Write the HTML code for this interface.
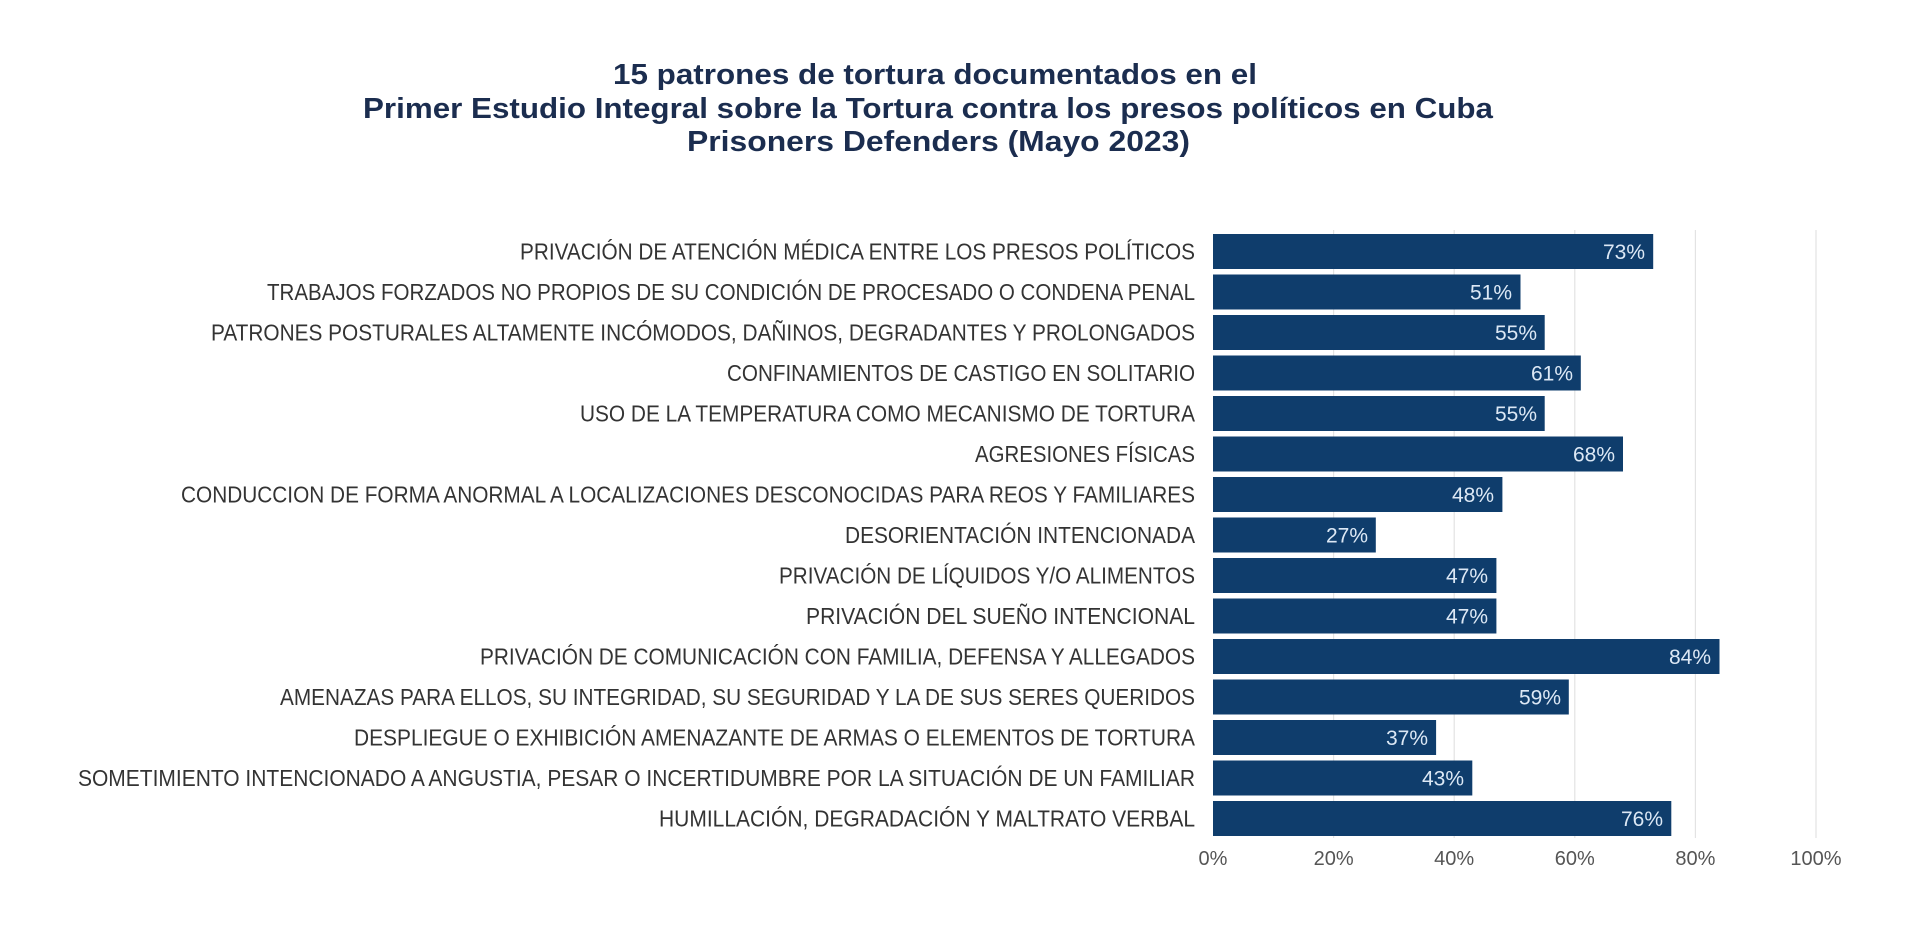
<!DOCTYPE html>
<html>
<head>
<meta charset="utf-8">
<style>
  html,body{margin:0;padding:0;background:#ffffff;}
  svg{display:block;}
</style>
</head>
<body>
<svg width="1920" height="942" viewBox="0 0 1920 942" xmlns="http://www.w3.org/2000/svg">
  <rect x="0" y="0" width="1920" height="942" fill="#ffffff"/>

  <!-- Title -->
  <g font-family="Liberation Sans, sans-serif" font-weight="bold" font-size="29" fill="#1b2d4f" text-anchor="middle">
    <text x="935" y="84" textLength="644" lengthAdjust="spacingAndGlyphs">15 patrones de tortura documentados en el</text>
    <text x="928" y="118" textLength="1130" lengthAdjust="spacingAndGlyphs">Primer Estudio Integral sobre la Tortura contra los presos políticos en Cuba</text>
    <text x="938.5" y="151" textLength="503" lengthAdjust="spacingAndGlyphs">Prisoners Defenders (Mayo 2023)</text>
  </g>

  <!-- Gridlines -->
  <g stroke="#e3e3e3" stroke-width="1.2">
    <line x1="1333.6" y1="230" x2="1333.6" y2="838"/>
    <line x1="1454.2" y1="230" x2="1454.2" y2="838"/>
    <line x1="1574.8" y1="230" x2="1574.8" y2="838"/>
    <line x1="1695.4" y1="230" x2="1695.4" y2="838"/>
    <line x1="1816" y1="230" x2="1816" y2="838"/>
  </g>

  <!-- Bars -->
  <g fill="#0f3d6c">
    <rect x="1213" y="234" width="440.2" height="35"/>
    <rect x="1213" y="274.5" width="307.5" height="35"/>
    <rect x="1213" y="315" width="331.7" height="35"/>
    <rect x="1213" y="355.5" width="367.8" height="35"/>
    <rect x="1213" y="396" width="331.7" height="35"/>
    <rect x="1213" y="436.5" width="410" height="35"/>
    <rect x="1213" y="477" width="289.4" height="35"/>
    <rect x="1213" y="517.5" width="162.8" height="35"/>
    <rect x="1213" y="558" width="283.4" height="35"/>
    <rect x="1213" y="598.5" width="283.4" height="35"/>
    <rect x="1213" y="639" width="506.5" height="35"/>
    <rect x="1213" y="679.5" width="355.8" height="35"/>
    <rect x="1213" y="720" width="223.1" height="35"/>
    <rect x="1213" y="760.5" width="259.3" height="35"/>
    <rect x="1213" y="801" width="458.3" height="35"/>
  </g>

  <!-- Value labels -->
  <g font-family="Liberation Sans, sans-serif" font-size="21" fill="#dce8f5" text-anchor="end">
    <text x="1645" y="259">73%</text>
    <text x="1512" y="299.5">51%</text>
    <text x="1537" y="340">55%</text>
    <text x="1573" y="380.5">61%</text>
    <text x="1537" y="421">55%</text>
    <text x="1615" y="461.5">68%</text>
    <text x="1494" y="502">48%</text>
    <text x="1368" y="542.5">27%</text>
    <text x="1488" y="583">47%</text>
    <text x="1488" y="623.5">47%</text>
    <text x="1711" y="664">84%</text>
    <text x="1561" y="704.5">59%</text>
    <text x="1428" y="745">37%</text>
    <text x="1464" y="785.5">43%</text>
    <text x="1663" y="826">76%</text>
  </g>

  <!-- Category labels -->
  <g font-family="Liberation Sans, sans-serif" font-size="23" fill="#333333" text-anchor="end">
    <text x="1195" y="259.5" textLength="675" lengthAdjust="spacingAndGlyphs">PRIVACIÓN DE ATENCIÓN MÉDICA ENTRE LOS PRESOS POLÍTICOS</text>
    <text x="1195" y="300" textLength="928" lengthAdjust="spacingAndGlyphs">TRABAJOS FORZADOS NO PROPIOS DE SU CONDICIÓN DE PROCESADO O CONDENA PENAL</text>
    <text x="1195" y="340.5" textLength="984" lengthAdjust="spacingAndGlyphs">PATRONES POSTURALES ALTAMENTE INCÓMODOS, DAÑINOS, DEGRADANTES Y PROLONGADOS</text>
    <text x="1195" y="381" textLength="468" lengthAdjust="spacingAndGlyphs">CONFINAMIENTOS DE CASTIGO EN SOLITARIO</text>
    <text x="1195" y="421.5" textLength="615" lengthAdjust="spacingAndGlyphs">USO DE LA TEMPERATURA COMO MECANISMO DE TORTURA</text>
    <text x="1195" y="462" textLength="220" lengthAdjust="spacingAndGlyphs">AGRESIONES FÍSICAS</text>
    <text x="1195" y="502.5" textLength="1014" lengthAdjust="spacingAndGlyphs">CONDUCCION DE FORMA ANORMAL A LOCALIZACIONES DESCONOCIDAS PARA REOS Y FAMILIARES</text>
    <text x="1195" y="543" textLength="350" lengthAdjust="spacingAndGlyphs">DESORIENTACIÓN INTENCIONADA</text>
    <text x="1195" y="583.5" textLength="416" lengthAdjust="spacingAndGlyphs">PRIVACIÓN DE LÍQUIDOS Y/O ALIMENTOS</text>
    <text x="1195" y="624" textLength="389" lengthAdjust="spacingAndGlyphs">PRIVACIÓN DEL SUEÑO INTENCIONAL</text>
    <text x="1195" y="664.5" textLength="715" lengthAdjust="spacingAndGlyphs">PRIVACIÓN DE COMUNICACIÓN CON FAMILIA, DEFENSA Y ALLEGADOS</text>
    <text x="1195" y="705" textLength="915" lengthAdjust="spacingAndGlyphs">AMENAZAS PARA ELLOS, SU INTEGRIDAD, SU SEGURIDAD Y LA DE SUS SERES QUERIDOS</text>
    <text x="1195" y="745.5" textLength="841" lengthAdjust="spacingAndGlyphs">DESPLIEGUE O EXHIBICIÓN AMENAZANTE DE ARMAS O ELEMENTOS DE TORTURA</text>
    <text x="1195" y="786" textLength="1117" lengthAdjust="spacingAndGlyphs">SOMETIMIENTO INTENCIONADO A ANGUSTIA, PESAR O INCERTIDUMBRE POR LA SITUACIÓN DE UN FAMILIAR</text>
    <text x="1195" y="826.5" textLength="536" lengthAdjust="spacingAndGlyphs">HUMILLACIÓN, DEGRADACIÓN Y MALTRATO VERBAL</text>
  </g>

  <!-- Axis tick labels -->
  <g font-family="Liberation Sans, sans-serif" font-size="20" fill="#555555" text-anchor="middle">
    <text x="1213" y="865">0%</text>
    <text x="1333.6" y="865">20%</text>
    <text x="1454.2" y="865">40%</text>
    <text x="1574.8" y="865">60%</text>
    <text x="1695.4" y="865">80%</text>
    <text x="1816" y="865">100%</text>
  </g>
</svg>
</body>
</html>
